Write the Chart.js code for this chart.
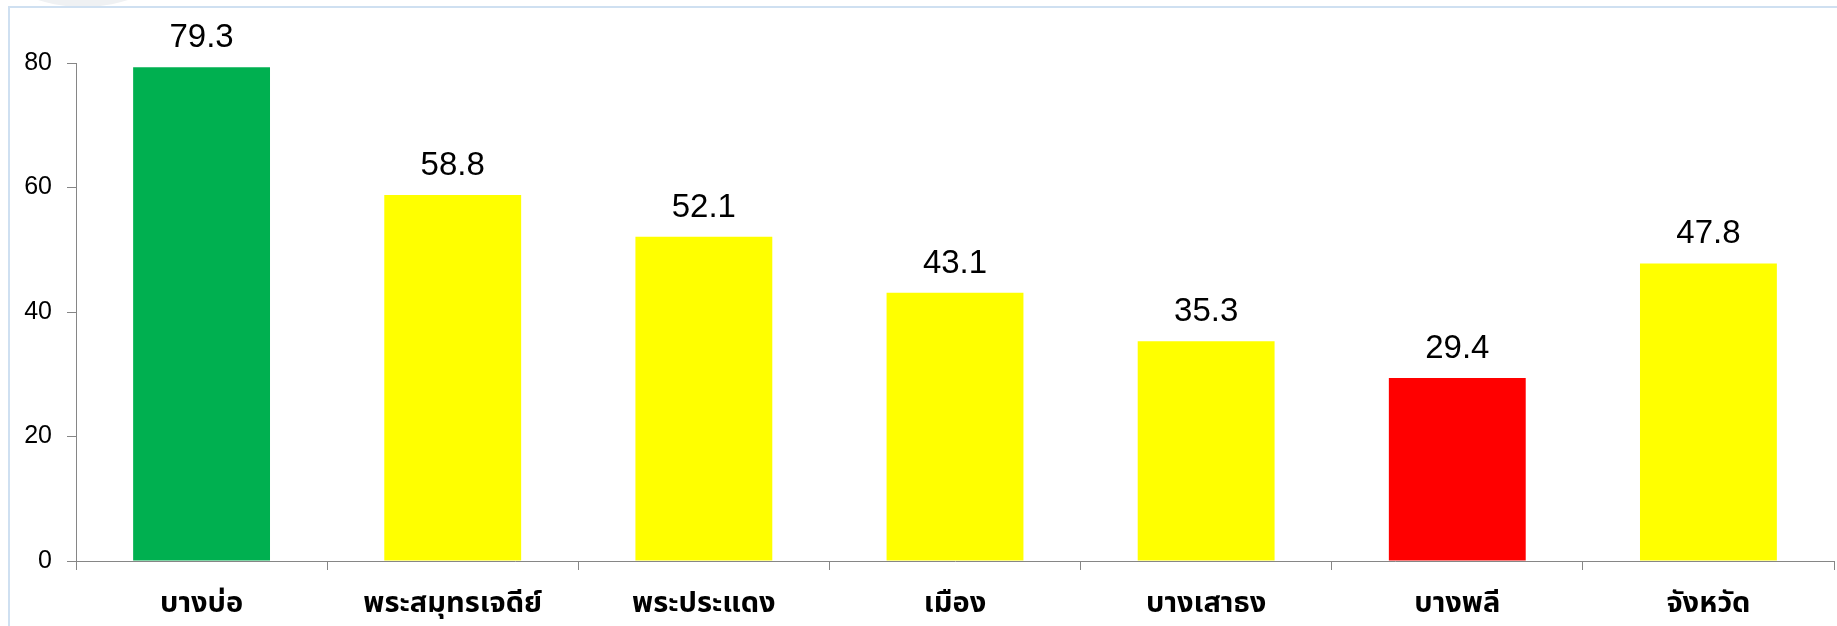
<!DOCTYPE html>
<html>
<head>
<meta charset="utf-8">
<script src="https://cdn.jsdelivr.net/npm/chart.js@4.4.1/dist/chart.umd.min.js"></script>
<style>
  html, body { margin: 0; padding: 0; background: #ffffff; overflow: hidden; }
  #wrap { position: relative; width: 1837px; height: 626px; }
  #blob { position: absolute; left: -65px; top: -289px; width: 296px; height: 296px; border-radius: 50%; background: #eff1f3; }
  #frame { position: absolute; left: 8px; top: 6px; width: 1840px; height: 640px; border-left: 2px solid #cfe0f1; border-top: 2px solid #cfe0f1; box-sizing: border-box; }
  canvas { position: absolute; left: 0; top: 0; }
</style>
</head>
<body>
<div id="wrap">
  <div id="blob"></div>
  <div id="frame"></div>
  <canvas id="c" width="1837" height="626"></canvas>
</div>
<script>
const categories = ["บางบ่อ", "พระสมุทรเจดีย์", "พระประแดง", "เมือง", "บางเสาธง", "บางพลี", "จังหวัด"];
const values = [79.3, 58.8, 52.1, 43.1, 35.3, 29.4, 47.8];
const barColors = ["#00B050", "#FFFF00", "#FFFF00", "#FFFF00", "#FFFF00", "#FF0000", "#FFFF00"];
const yTicks = [0, 20, 40, 60, 80];

const axisColor = "#868686";
const thaiFont = "'Noto Sans Thai', 'Tahoma', 'Loma', 'Garuda', 'Noto Sans', sans-serif";

const valueLabels = {
  id: "valueLabels",
  afterDatasetsDraw(chart) {
    const ctx = chart.ctx;
    const meta = chart.getDatasetMeta(0);
    ctx.save();
    ctx.font = "33px 'Liberation Sans', Arial, sans-serif";
    ctx.fillStyle = "#000000";
    ctx.textAlign = "center";
    ctx.textBaseline = "alphabetic";
    meta.data.forEach((bar, i) => {
      ctx.fillText(values[i].toFixed(1), bar.x, bar.y - 20);
    });
    ctx.restore();
  }
};

new Chart(document.getElementById("c"), {
  type: "bar",
  data: {
    labels: categories,
    datasets: [{
      data: values,
      backgroundColor: barColors,
      borderWidth: 0,
      barPercentage: 0.545,
      categoryPercentage: 1.0
    }]
  },
  options: {
    responsive: false,
    animation: false,
    layout: { padding: { left: 0, right: 3, top: 63, bottom: 0 } },
    plugins: { legend: { display: false }, tooltip: { enabled: false } },
    scales: {
      x: {
        offset: true,
        grid: { offset: true, drawOnChartArea: false, drawTicks: true, tickLength: 9, color: axisColor, lineWidth: 1 },
        border: { display: true, color: axisColor, width: 1 },
        ticks: { color: "#000000", font: { family: thaiFont, size: 29, weight: "bold" }, padding: 19, maxRotation: 0, autoSkip: false },
        afterFit(scale) { scale.height = 65; }
      },
      y: {
        min: 0,
        max: 80,
        afterBuildTicks(scale) { scale.ticks = yTicks.map(v => ({ value: v })); },
        grid: { drawOnChartArea: false, drawTicks: true, tickLength: 9, color: axisColor, lineWidth: 1 },
        border: { display: true, color: axisColor, width: 1 },
        ticks: { color: "#000000", font: { family: "'Liberation Sans', Arial, sans-serif", size: 25 }, padding: 15 },
        afterFit(scale) { scale.width = 76; }
      }
    }
  },
  plugins: [valueLabels]
});
</script>
</body>
</html>
